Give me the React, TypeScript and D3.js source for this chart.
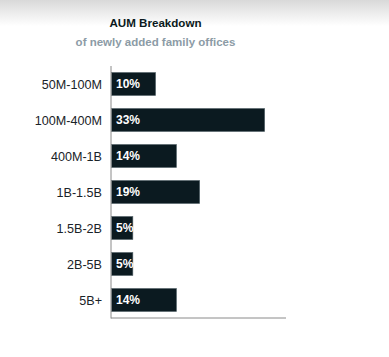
import React from "react";
import * as d3 from "d3";

const categories = ["50M-100M", "100M-400M", "400M-1B", "1B-1.5B", "1.5B-2B", "2B-5B", "5B+"];
const values = [9.5, 33, 14, 19, 4.6, 4.6, 14];
const labels = ["10%", "33%", "14%", "19%", "5%", "5%", "14%"];

const W = 389;
const H = 357;
const FONT = "'Liberation Sans', Arial, Helvetica, sans-serif";

export default function App() {
  const x = d3.scaleLinear().domain([0, 37.7]).range([111, 286]);
  const y = d3.scaleBand<string>().domain(categories).range([66, 318]).paddingInner(0.36).paddingOuter(0.18);

  return (
    <svg width={W} height={H} style={{ position: "absolute", left: 0, top: 0, background: "#fff" }}>
      <defs>
        <linearGradient id="topShade" x1="0" y1="0" x2="0" y2="1">
          <stop offset="0" stopColor="#d9d9d9" />
          <stop offset="1" stopColor="#ffffff" />
        </linearGradient>
      </defs>
      <rect x={0} y={0} width={W} height={26} fill="url(#topShade)" />
      <text x={155.5} y={27} textAnchor="middle" fontFamily={FONT} fontWeight="bold" fontSize={11.6} fill="#0b1a20">
        AUM Breakdown
      </text>
      <text x={155.5} y={46} textAnchor="middle" fontFamily={FONT} fontWeight="bold" fontSize={11.5} fill="#8c9ba6">
        of newly added family offices
      </text>
      {categories.map((c, i) => {
        const y0 = y(c)!;
        const bh = y.bandwidth();
        return (
          <g key={c}>
            <rect x={x(0) + 0.5} y={y0} width={x(values[i]) - x(0)} height={bh} fill="#0b1a20" stroke="#55656c" strokeWidth={0.6} />
            <text x={102} y={y0 + bh / 2} dy="0.36em" textAnchor="end" fontFamily={FONT} fontSize={12.6} fill="#1a2328">
              {c}
            </text>
            <text x={116} y={y0 + bh / 2} dy="0.36em" fontFamily={FONT} fontWeight="bold" fontSize={12} fill="#ffffff">
              {labels[i]}
            </text>
          </g>
        );
      })}
      <line x1={x(0)} x2={x(0)} y1={66} y2={318.5} stroke="#8a8a8a" strokeWidth={1} />
      <line x1={x(0)} x2={x.range()[1]} y1={318} y2={318} stroke="#8a8a8a" strokeWidth={1} />
    </svg>
  );
}
